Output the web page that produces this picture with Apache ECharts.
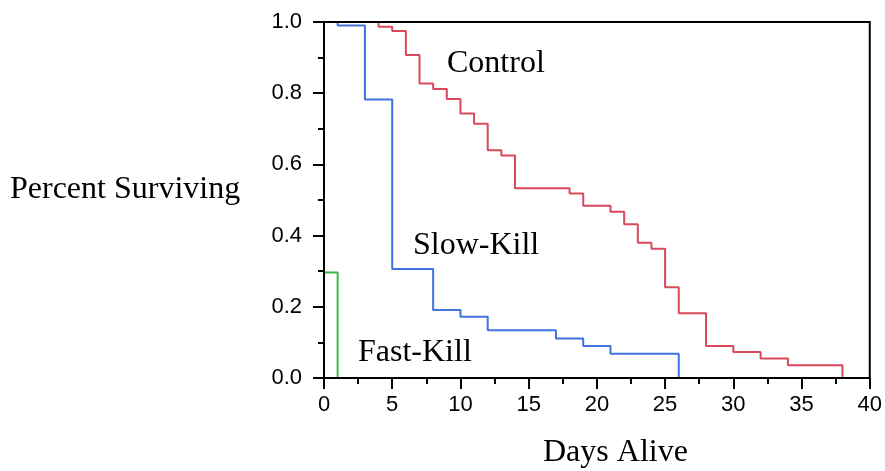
<!DOCTYPE html>
<html>
<head>
<meta charset="utf-8">
<script src="https://cdn.jsdelivr.net/npm/echarts@6/dist/echarts.min.js"></script>
<style>
  html, body { margin: 0; padding: 0; background: #fff; }
  #chart { width: 885px; height: 471px; }
</style>
</head>
<body>
<div id="chart"></div>
<script>
// survival curves: [day, fraction surviving], drawn as steps
var controlDays = [0, 4, 5, 6, 7, 8, 9, 10, 11, 12, 13, 14, 18, 19, 21, 22, 23, 24, 25, 26, 28, 30, 32, 34, 38];
var controlSurv = [1, 0.987, 0.975, 0.907, 0.827, 0.812, 0.784, 0.743, 0.714, 0.640, 0.625, 0.533, 0.518, 0.484, 0.467, 0.432, 0.380, 0.363, 0.255, 0.182, 0.090, 0.073, 0.055, 0.036, 0];

var slowDays = [0, 1, 3, 5, 8, 10, 12, 17, 19, 21, 26];
var slowSurv = [1, 0.99, 0.782, 0.306, 0.191, 0.172, 0.134, 0.111, 0.090, 0.068, 0];

var fastDays = [0, 0, 1];
var fastSurv = [1, 0.296, 0];

var xTicks = [0, 5, 10, 15, 20, 25, 30, 35, 40];
var yTicks = [0, 0.2, 0.4, 0.6, 0.8, 1.0];

function pairs(xs, ys) {
  return xs.map(function (x, i) { return [x, ys[i]]; });
}

var chart = echarts.init(document.getElementById('chart'), null, { renderer: 'canvas' });

var serif = '"Liberation Serif", "DejaVu Serif", serif';
var sans = '"Liberation Sans", Arial, sans-serif';

var option = {
  animation: false,
  backgroundColor: '#fff',
  grid: {
    left: 324, top: 22, right: 12, bottom: 93, z: 10,
    show: true, borderColor: '#000', borderWidth: 2, backgroundColor: 'transparent'
  },
  xAxis: {
    type: 'value', z: 10,
    min: xTicks[0], max: xTicks[xTicks.length - 1], interval: 5,
    axisLine: { show: true, onZero: false, lineStyle: { color: '#000', width: 2 } },
    axisTick: { show: true, inside: false, length: 11, lineStyle: { color: '#000', width: 2 } },
    minorTick: { show: true, splitNumber: 2, length: 6, lineStyle: { color: '#000', width: 2 } },
    splitLine: { show: false },
    axisLabel: { color: '#000', fontFamily: sans, fontSize: 22, margin: 16 }
  },
  yAxis: {
    type: 'value', z: 10,
    min: yTicks[0], max: yTicks[yTicks.length - 1], interval: 0.2,
    axisLine: { show: true, onZero: false, lineStyle: { color: '#000', width: 2 } },
    axisTick: { show: true, inside: false, length: 11, lineStyle: { color: '#000', width: 2 } },
    minorTick: { show: true, splitNumber: 2, length: 6, lineStyle: { color: '#000', width: 2 } },
    splitLine: { show: false },
    axisLabel: {
      color: '#000', fontFamily: sans, fontSize: 22, margin: 22,
      formatter: function (v) { return v.toFixed(1); }
    }
  },
  series: [
    {
      name: 'Control', type: 'line', step: 'end', symbol: 'none', z: 2,
      lineStyle: { color: '#d9485b', width: 2 },
      data: pairs(controlDays, controlSurv)
    },
    {
      name: 'Slow-Kill', type: 'line', step: 'end', symbol: 'none', z: 2,
      lineStyle: { color: '#3f73de', width: 2 },
      data: pairs(slowDays, slowSurv)
    },
    {
      name: 'Fast-Kill', type: 'line', step: 'end', symbol: 'none', z: 2,
      lineStyle: { color: '#3cb84a', width: 2 },
      data: pairs(fastDays, fastSurv)
    }
  ],
  graphic: [
    { type: 'text', left: 10, top: 174, style: { text: 'Percent Surviving', font: '32px ' + serif, fill: '#000' } },
    { type: 'text', left: 543, top: 437, style: { text: 'Days Alive', font: '32px ' + serif, fill: '#000' } },
    { type: 'text', left: 447, top: 48, style: { text: 'Control', font: '32px ' + serif, fill: '#000' } },
    { type: 'text', left: 413, top: 230, style: { text: 'Slow-Kill', font: '32px ' + serif, fill: '#000' } },
    { type: 'text', left: 358, top: 337, style: { text: 'Fast-Kill', font: '32px ' + serif, fill: '#000' } }
  ]
};

chart.setOption(option);
</script>
</body>
</html>
